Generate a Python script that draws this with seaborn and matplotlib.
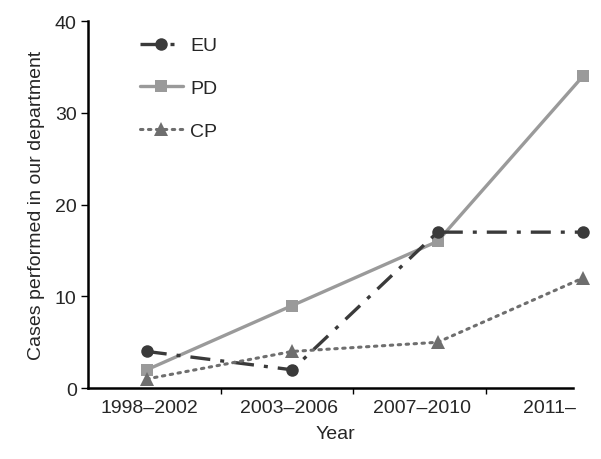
import seaborn as sns
import pandas as pd
import matplotlib.pyplot as plt
import numpy as np

periods = ['1998–2002', '2003–2006', '2007–2010', '2011–']
eu = [4, 2, 17, 17]
pd_vals = [2, 9, 16, 34]
cp = [1, 4, 5, 12]

sns.set_theme(style="ticks")
plt.rcParams['font.family'] = ['Liberation Sans', 'DejaVu Sans']

fig = plt.figure(figsize=(6.01, 4.60), dpi=100)
ax = fig.add_axes([0.146, 0.154, 0.824, 0.798])

x = np.arange(len(periods))

sns.lineplot(x=x, y=eu, ax=ax, color='#3a3a3a', lw=2.4, marker='o', markersize=9,
             markeredgewidth=0, label='EU', clip_on=False, zorder=3)
ax.lines[-1].set_dashes((6, 3, 1.2, 3))
sns.lineplot(x=x, y=pd_vals, ax=ax, color='#9a9a9a', lw=2.4, marker='s', markersize=9,
             markeredgewidth=0, label='PD', clip_on=False, zorder=2)
sns.lineplot(x=x, y=cp, ax=ax, color='#6e6e6e', lw=2.2, marker='^', markersize=10,
             markeredgewidth=0, label='CP', clip_on=False, zorder=4)
ax.lines[-1].set_dashes((0.8, 1.8))
ax.lines[-1].set_dash_capstyle('round')

# category labels sit a little left of the points, as in the original layout
ax.set_xticks([0.02, 0.98, 1.89, 2.77])
ax.set_xticklabels(periods)
ax.set_xticks([0.51, 1.42, 2.33], minor=True)
ax.set_xlim(-0.406, 3.0)
ax.set_ylim(0, 40)
ax.tick_params(axis='x', which='major', length=0, labelsize=14, pad=8)
ax.tick_params(axis='x', which='minor', length=4, width=1, color='black')
ax.set_yticks([0, 10, 20, 30, 40])
ax.tick_params(axis='y', labelsize=14, length=5, width=1, color='black', pad=3)

for s in ['left', 'bottom']:
    ax.spines[s].set_linewidth(1.8)
    ax.spines[s].set_color('black')
sns.despine(ax=ax)
ax.spines['bottom'].set_bounds(-0.406, 2.93)

ax.set_xlabel('Year', fontsize=14, labelpad=6)
ax.set_ylabel('Cases performed in our department', fontsize=14, labelpad=7)

leg = ax.legend(loc='upper left', bbox_to_anchor=(0.07, 1.005), frameon=False,
                fontsize=14, labelspacing=1.3, handlelength=2.2, handletextpad=0.4)

fig.savefig('out.png', dpi=100)
